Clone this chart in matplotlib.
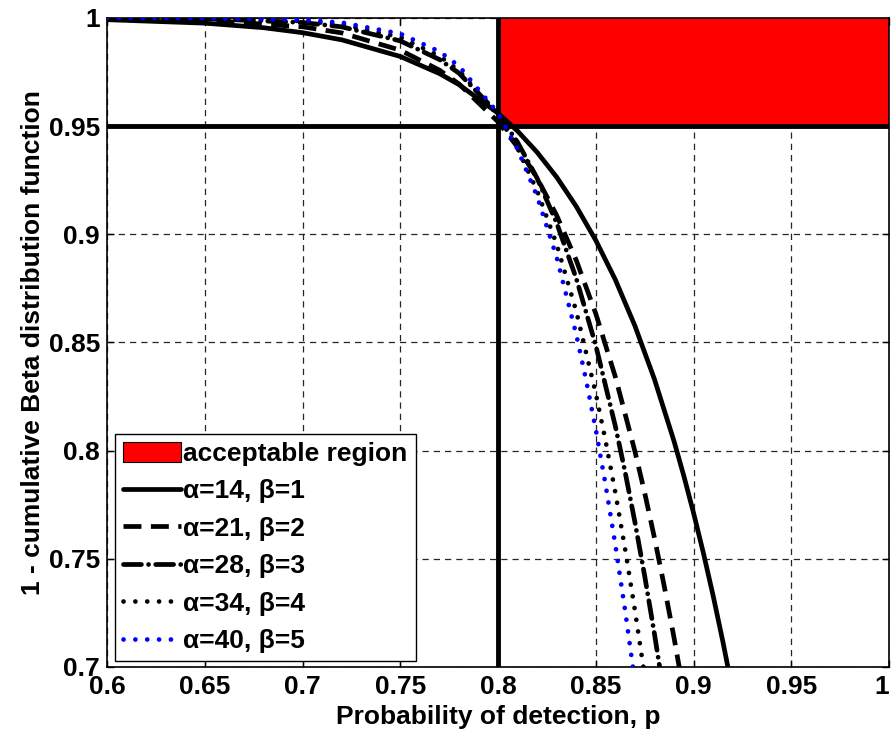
import numpy as np
import matplotlib
matplotlib.use("Agg")
import matplotlib.pyplot as plt
from matplotlib.patches import Rectangle

plt.rcParams['font.family'] = ['Liberation Sans', 'DejaVu Sans']
plt.rcParams['font.weight'] = 'bold'

# values
p1 = [0.6, 0.65, 0.68, 0.7, 0.72, 0.75, 0.77, 0.78, 0.8, 0.81, 0.82, 0.83, 0.84, 0.85,
      0.86, 0.87, 0.88, 0.89, 0.895, 0.9, 0.905, 0.91, 0.915, 0.92]
y1 = [0.9992, 0.9976, 0.9955, 0.9932, 0.9899, 0.9822, 0.9743, 0.9692, 0.9560, 0.9477,
      0.9379, 0.9264, 0.9129, 0.8972, 0.8790, 0.8577, 0.8330, 0.8044, 0.7884, 0.7712,
      0.7528, 0.7330, 0.7117, 0.6888]

p2 = [0.6, 0.65, 0.7, 0.72, 0.75, 0.77, 0.78, 0.8, 0.81, 0.82, 0.83, 0.84, 0.85, 0.86,
      0.87, 0.875, 0.88, 0.885, 0.89, 0.895]
y2 = [0.9998, 0.9990, 0.9959, 0.9931, 0.9851, 0.9759, 0.9695, 0.9520, 0.9403, 0.9260,
      0.9087, 0.8880, 0.8633, 0.8341, 0.7997, 0.7805, 0.7597, 0.7374, 0.7136, 0.6880]

p3 = [0.6, 0.65, 0.7, 0.72, 0.75, 0.77, 0.78, 0.8, 0.81, 0.82, 0.83, 0.84, 0.85, 0.86,
      0.865, 0.87, 0.875, 0.88, 0.885]
y3 = [1.0000, 0.9997, 0.9979, 0.9959, 0.9894, 0.9808, 0.9745, 0.9558, 0.9425, 0.9259,
      0.9052, 0.8796, 0.8486, 0.8113, 0.7901, 0.7670, 0.7421, 0.7153, 0.6865]

p4 = [0.6, 0.65, 0.7, 0.72, 0.75, 0.77, 0.78, 0.8, 0.81, 0.82, 0.83, 0.84, 0.85, 0.855,
      0.86, 0.865, 0.87, 0.875]
y4 = [1.0000, 0.9998, 0.9986, 0.9970, 0.9911, 0.9824, 0.9757, 0.9550, 0.9397, 0.9201,
      0.8953, 0.8644, 0.8264, 0.8045, 0.7806, 0.7545, 0.7263, 0.6959]

p5 = [0.6, 0.65, 0.7, 0.72, 0.75, 0.77, 0.78, 0.8, 0.81, 0.82, 0.83, 0.84, 0.845, 0.85,
      0.855, 0.86, 0.865, 0.87]
y5 = [1.0000, 0.9999, 0.9991, 0.9979, 0.9927, 0.9845, 0.9778, 0.9560, 0.9393, 0.9175,
      0.8893, 0.8537, 0.8328, 0.8097, 0.7842, 0.7564, 0.7261, 0.6933]

labels = ['α=14, β=1', 'α=21, β=2', 'α=28, β=3', 'α=34, β=4', 'α=40, β=5']
p_min = 0.8
conf = 0.95

fig = plt.figure(figsize=(8.92, 7.36), dpi=100)
ax = fig.add_axes([0.120, 0.0938, 0.8767, 0.8818])

# acceptable region
ax.add_patch(Rectangle((p_min, conf), 1 - p_min, 1 - conf, facecolor='red',
                       edgecolor='none', zorder=1.5, label='acceptable region'))

lw = 3.4
ax.plot(p1, y1, color='k', lw=lw, solid_capstyle='round', label=labels[0], zorder=3)
ax.plot(p2, y2, color='k', lw=lw, linestyle=(0, (3.8, 2.0)), label=labels[1], zorder=3)
ax.plot(p3, y3, color='k', lw=lw, linestyle=(0, (3.8, 1.5, 0.01, 1.5)),
        dash_capstyle='round', label=labels[2], zorder=3)
ax.plot(p4, y4, color='k', lw=lw, linestyle=(0, (0.01, 2.5)), dash_capstyle='round',
        label=labels[3], zorder=3)
ax.plot(p5, y5, color='blue', lw=lw, linestyle=(0, (0.01, 2.5)), dash_capstyle='round',
        label=labels[4], zorder=3)

ax.axhline(conf, color='k', lw=3.5, zorder=2.5)
ax.axvline(p_min, color='k', lw=3.5, zorder=2.5)

ax.set_xlim(0.6, 1.0)
ax.set_ylim(0.7, 1.0)
ax.set_xticks(np.arange(0.6, 1.001, 0.05))
ax.set_yticks(np.arange(0.7, 1.001, 0.05))
ax.set_xticklabels(['0.6', '0.65', '0.7', '0.75', '0.8', '0.85', '0.9', '0.95', '1'])
ax.set_yticklabels(['0.7', '0.75', '0.8', '0.85', '0.9', '0.95', '1'])
ax.get_xticklabels()[-1].set_horizontalalignment('right')
ax.tick_params(direction='in', length=5, width=1, labelsize=19, top=True, right=True)
ax.tick_params(axis='x', pad=6)
ax.tick_params(axis='y', pad=5)
ax.set_axisbelow(True)
ax.grid(True, color='0.15', lw=0.9, linestyle=(0, (5, 4)))
for s in ax.spines.values():
    s.set_linewidth(1.2)

ax.set_xlabel('Probability of detection, p', fontsize=19, fontweight='bold', labelpad=4)
ax.set_ylabel('1 - cumulative Beta distribution function', fontsize=19,
              fontweight='bold', labelpad=3)

leg = ax.legend(loc='lower left', bbox_to_anchor=(0.01, 0.009), borderaxespad=0,
                fontsize=19, handlelength=2.2, handletextpad=0.1, labelspacing=0.5,
                handleheight=0.8, fancybox=False, framealpha=1, edgecolor='k',
                borderpad=0.3)
leg.get_frame().set_linewidth(1.0)
leg.legend_handles[0].set_edgecolor('k')
leg.legend_handles[0].set_linewidth(0.8)

fig.savefig('out.png', dpi=100)
